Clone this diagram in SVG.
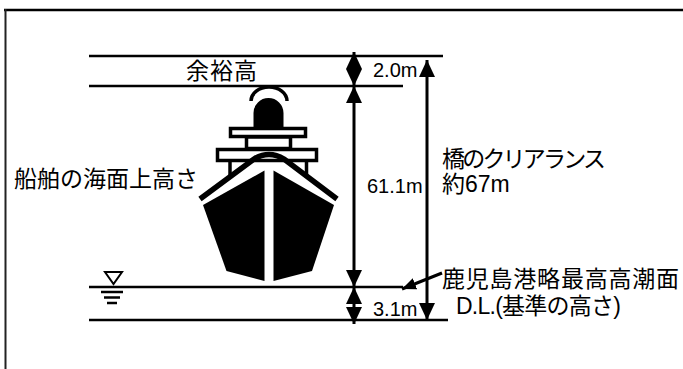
<svg xmlns="http://www.w3.org/2000/svg" width="683" height="369" viewBox="0 0 683 369">
  <style>
    .txt { font-family: "Liberation Sans", "Noto Sans CJK JP", sans-serif; fill: #000; }
    .jp { font-size: 23px; }
    .num { font-size: 20px; }
    .ln { stroke: #000; stroke-width: 2.5; fill: none; }
    .dim { stroke: #000; stroke-width: 3; fill: none; }
    .deck { fill: #fff; stroke: #000; stroke-width: 3.5; }
    .blk { fill: #000; stroke: none; }
  </style>
  <defs>
    <marker id="ah" viewBox="0 0 17 16" refX="17" refY="8" markerWidth="17" markerHeight="16" markerUnits="userSpaceOnUse" orient="auto-start-reverse">
      <path d="M0,0 L17,8 L0,16 Z" fill="#000"/>
    </marker>
    <marker id="ahs" viewBox="0 0 14 12" refX="14" refY="6" markerWidth="14" markerHeight="12" markerUnits="userSpaceOnUse" orient="auto">
      <path d="M0,0 L14,6 L0,12 Z" fill="#000"/>
    </marker>
  </defs>

  <rect width="683" height="369" fill="#fff"/>

  <!-- frame -->
  <g id="frame">
    <line x1="4" y1="10" x2="683" y2="10" stroke="#000" stroke-width="2.5"/>
    <line x1="5.5" y1="9" x2="5.5" y2="369" stroke="#222" stroke-width="2"/>
  </g>

  <!-- level lines -->
  <g id="levels">
    <line class="ln" x1="89" y1="56" x2="443" y2="56"/>
    <line class="ln" x1="89" y1="86" x2="403" y2="86"/>
    <line class="ln" x1="89" y1="287" x2="403" y2="287"/>
    <line class="ln" x1="89" y1="320" x2="448" y2="320"/>
  </g>

  <!-- water level symbol -->
  <g id="water-mark">
    <path d="M105,272 L122,272 L113.5,284 Z" fill="#fff" stroke="#000" stroke-width="2"/>
    <line class="ln" x1="101" y1="292" x2="123" y2="292"/>
    <line class="ln" x1="104" y1="297.5" x2="120" y2="297.5"/>
    <line class="ln" x1="107" y1="303" x2="117" y2="303"/>
  </g>

  <!-- ship -->
  <g id="ship">
    <path d="M251,101 A18,14 0 0 1 287,101" fill="none" stroke="#000" stroke-width="3.5"/>
    <path class="blk" d="M253.5,127 L253.5,113 A15,15 0 0 1 283.5,113 L283.5,127 Z"/>
    <rect class="deck" x="230.5" y="128.5" width="75" height="8"/>
    <rect class="deck" x="246.5" y="137" width="44" height="11.5"/>
    <rect class="deck" x="217.5" y="149.5" width="99" height="11"/>
    <line x1="230" y1="162" x2="230" y2="178" stroke="#000" stroke-width="3.5"/>
    <line x1="306.5" y1="162" x2="306.5" y2="178" stroke="#000" stroke-width="3.5"/>
    <path d="M200,199 L254,159 Q269,150 284,159 L337,199" fill="none" stroke="#000" stroke-width="5.5"/>
    <polygon class="blk" points="203,205 264.5,170.5 264.5,281 226.5,271"/>
    <polygon class="blk" points="273.5,170.5 334,205 312,271 273.5,281"/>
  </g>

  <!-- dimension arrows -->
  <g id="connectors">
    <line class="dim" x1="354" y1="52" x2="354" y2="86" marker-start="url(#ah)" marker-end="url(#ah)"/>
    <line class="dim" x1="354" y1="86" x2="354" y2="287" marker-start="url(#ah)" marker-end="url(#ah)"/>
    <line class="dim" x1="354" y1="287" x2="354" y2="324" marker-start="url(#ah)" marker-end="url(#ah)"/>
    <line class="dim" x1="427" y1="60" x2="427" y2="320" marker-start="url(#ah)" marker-end="url(#ah)"/>
    <line class="dim" x1="442" y1="273" x2="402" y2="289" marker-end="url(#ahs)"/>
  </g>

  <!-- labels -->
  <g id="labels">
    <text class="txt jp" x="186" y="79" textLength="71" lengthAdjust="spacing">余裕高</text>
    <text class="txt num" x="373" y="77">2.0m</text>
    <text class="txt num" x="367" y="193">61.1m</text>
    <text class="txt num" x="373" y="316">3.1m</text>
    <text class="txt jp" x="14" y="187" textLength="184" lengthAdjust="spacing">船舶の海面上高さ</text>
    <text class="txt jp" x="442" y="167" textLength="164" lengthAdjust="spacing">橋のクリアランス</text>
    <text class="txt jp" x="442" y="192">約67m</text>
    <text class="txt jp" x="442" y="287" textLength="237" lengthAdjust="spacing">鹿児島港略最高高潮面</text>
    <text class="txt jp" x="456" y="314" textLength="165" lengthAdjust="spacing">D.L.(基準の高さ)</text>
  </g>
</svg>
